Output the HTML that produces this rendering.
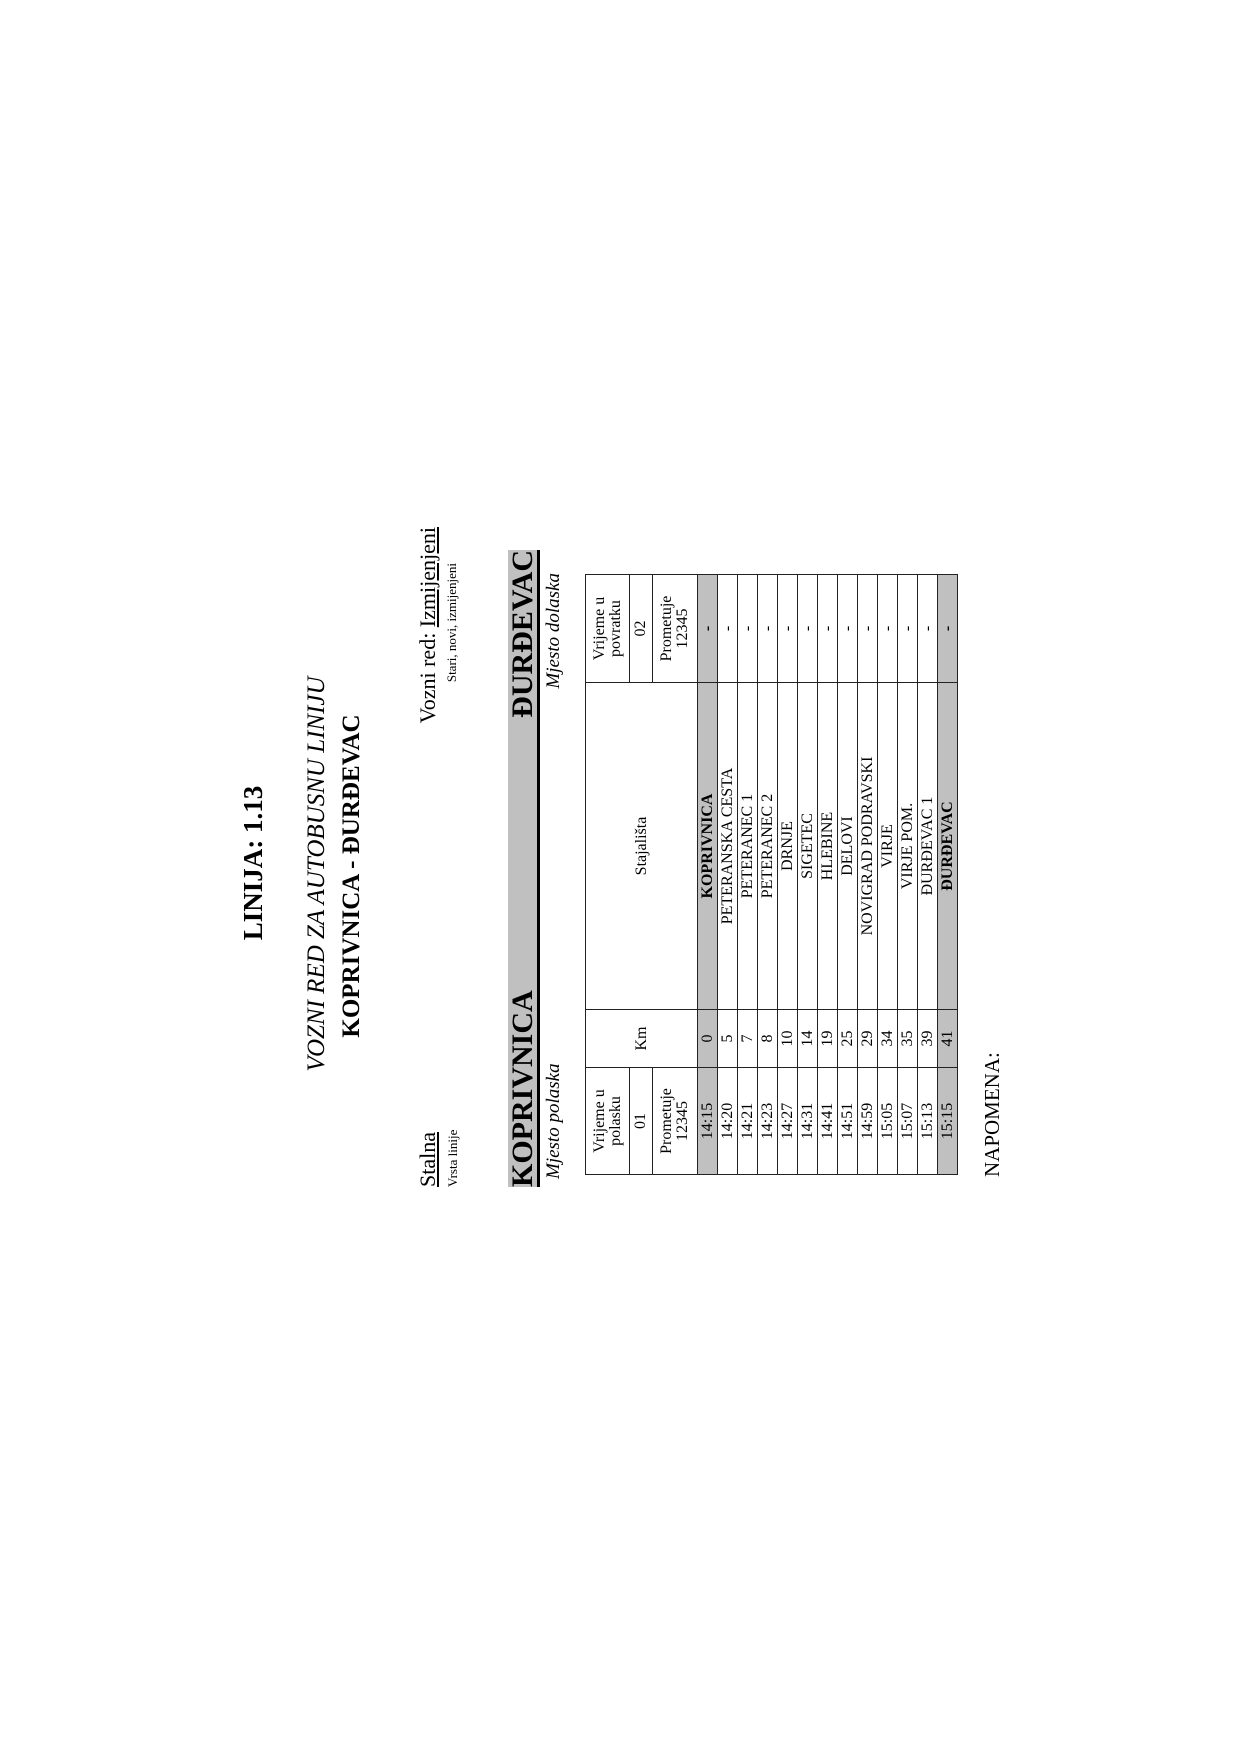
<!DOCTYPE html>
<html><head><meta charset="utf-8">
<style>
html,body{margin:0;padding:0;background:#fff;}
body{width:1240px;height:1754px;position:relative;overflow:hidden;}
#pg{position:absolute;left:0;top:0;width:1754px;height:1240px;transform-origin:0 0;transform:translateY(1754px) rotate(-90deg);font-family:"Liberation Serif",serif;color:#000;}
.a{position:absolute;line-height:1;white-space:nowrap;}
table{position:absolute;left:579px;top:585px;width:600px;border-collapse:collapse;table-layout:fixed;font-size:16px;}
td{border:1px solid #222;text-align:center;padding:0;line-height:1;overflow:hidden;}
tr.d td{height:19px;}
tr.g td{background:#c0c0c0;}
.b{font-weight:bold;}
</style></head><body>
<div id="pg">
<div class="a b" style="left:491px;width:800px;text-align:center;top:240px;font-size:27px;">LINIJA: 1.13</div>
<div class="a" style="left:480px;width:800px;text-align:center;top:304px;font-size:25px;"><i>VOZNI RED ZA AUTOBUSNU LINIJU</i></div>
<div class="a b" style="left:478px;width:800px;text-align:center;top:339px;font-size:25px;">KOPRIVNICA - ĐURĐEVAC</div>
<div class="a" style="left:567px;top:417px;font-size:22px;text-decoration:underline;">Stalna</div>
<div class="a" style="left:567px;top:446px;font-size:13px;">Vrsta linije</div>
<div class="a" style="right:527px;top:417px;font-size:22px;">Vozni red: <u>Izmijenjeni</u></div>
<div class="a" style="right:563px;top:445px;font-size:13px;">Stari, novi, izmijenjeni</div>
<div class="a b" style="left:567px;width:637px;top:508px;height:29px;background:#c0c0c0;border-bottom:3px solid #000;font-size:30px;display:flex;justify-content:space-between;align-items:flex-end;line-height:29px;"><span>KOPRIVNICA</span><span>ĐURĐEVAC</span></div>
<div class="a" style="left:575px;top:544px;font-size:19px;font-style:italic;">Mjesto polaska</div>
<div class="a" style="right:573px;top:544px;font-size:19px;font-style:italic;">Mjesto dolaska</div>
<table>
<colgroup><col style="width:107px"><col style="width:58px"><col style="width:327px"><col style="width:108px"></colgroup>
<tr style="height:44px"><td>Vrijeme u<br>polasku</td><td rowspan="3">Km</td><td rowspan="3">Stajališta</td><td>Vrijeme u<br>povratku</td></tr>
<tr style="height:23px"><td>01</td><td>02</td></tr>
<tr style="height:45px"><td>Prometuje<br>12345</td><td>Prometuje<br>12345</td></tr>
<tr class="d g"><td>14:15</td><td>0</td><td class="b">KOPRIVNICA</td><td class="b">-</td></tr>
<tr class="d"><td>14:20</td><td>5</td><td>PETERANSKA CESTA</td><td>-</td></tr>
<tr class="d"><td>14:21</td><td>7</td><td>PETERANEC 1</td><td>-</td></tr>
<tr class="d"><td>14:23</td><td>8</td><td>PETERANEC 2</td><td>-</td></tr>
<tr class="d"><td>14:27</td><td>10</td><td>DRNJE</td><td>-</td></tr>
<tr class="d"><td>14:31</td><td>14</td><td>SIGETEC</td><td>-</td></tr>
<tr class="d"><td>14:41</td><td>19</td><td>HLEBINE</td><td>-</td></tr>
<tr class="d"><td>14:51</td><td>25</td><td>DELOVI</td><td>-</td></tr>
<tr class="d"><td>14:59</td><td>29</td><td>NOVIGRAD PODRAVSKI</td><td>-</td></tr>
<tr class="d"><td>15:05</td><td>34</td><td>VIRJE</td><td>-</td></tr>
<tr class="d"><td>15:07</td><td>35</td><td>VIRJE POM.</td><td>-</td></tr>
<tr class="d"><td>15:13</td><td>39</td><td>ĐURĐEVAC 1</td><td>-</td></tr>
<tr class="d g"><td>15:15</td><td>41</td><td class="b">ĐURĐEVAC</td><td class="b">-</td></tr>
</table>
<div class="a" style="left:577px;top:982px;font-size:21px;">NAPOMENA:</div>
</div>
</body></html>
